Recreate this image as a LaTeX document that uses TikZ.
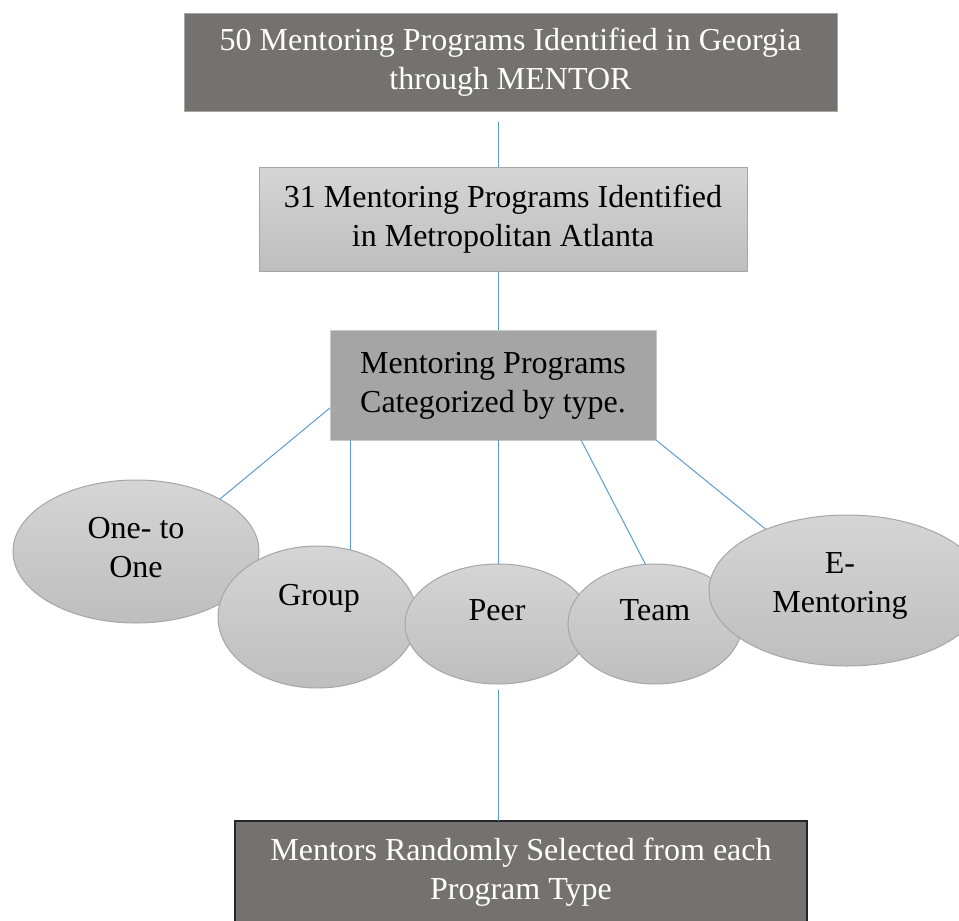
\documentclass[tikz,border=0pt]{standalone}
\usepackage{fontspec}
\setmainfont{Liberation Serif}
\usetikzlibrary{shapes.geometric,calc}
\definecolor{darkbox}{HTML}{767171}
\definecolor{lightA}{HTML}{D5D5D5}
\definecolor{lightB}{HTML}{BEBEBE}
\definecolor{midbox}{HTML}{A5A5A5}
\definecolor{edgegray}{HTML}{A6A6A6}
\definecolor{edgelight}{HTML}{C8C8C8}
\definecolor{edgedark}{HTML}{262626}
\definecolor{linkblue}{HTML}{5B9BD5}
\begin{document}
\begin{tikzpicture}[x=1pt,y=-1pt,
  every node/.style={inner sep=0pt, outer sep=0pt},
  txt/.style={font=\fontsize{32}{39}\selectfont, align=center},
  darkrect/.style={rectangle, txt, fill=darkbox, text=white},
  greyrect/.style={rectangle, txt, top color=lightA, bottom color=lightB, draw=edgegray, line width=1pt},
  midrect/.style={rectangle, txt, fill=midbox, draw=edgelight, line width=1pt},
  oval/.style={ellipse, top color=lightA, bottom color=lightB, draw=edgegray, line width=1pt},
  link/.style={draw=linkblue, line width=1pt}]
\useasboundingbox (0,0) rectangle (959,921);
\clip (0,0) rectangle (959,921);

% boxes
\node[darkrect, draw=edgegray, line width=1pt, minimum width=653pt, minimum height=98pt] (top) at (510.5,62)
  {\strut 50 Mentoring Programs Identified in Georgia\\\strut through MENTOR};
\node[greyrect, minimum width=488pt, minimum height=104pt] (metro) at (503,219)
  {\strut 31 Mentoring Programs Identified\\\strut in Metropolitan Atlanta};
\node[midrect, minimum width=326pt, minimum height=110pt] (cat) at (493,385)
  {\strut Mentoring Programs\\\strut Categorized by type.};
\node[darkrect, draw=edgedark, line width=1.5pt, minimum width=572pt, minimum height=102pt] (sel) at (521,872)
  {\strut Mentors Randomly Selected from each\\\strut Program Type};

% ellipses (left to right, later ones on top)
\node[oval, minimum width=246pt, minimum height=143pt] (one) at (136,551.5) {};
\node[oval, minimum width=199pt, minimum height=142pt] (group) at (317.5,617) {};
\node[oval, minimum width=186pt, minimum height=120pt] (peer) at (498,624) {};
\node[oval, minimum width=174pt, minimum height=120pt] (team) at (655,624) {};
\node[oval, minimum width=276pt, minimum height=151pt] (emen) at (847,590.5) {};

% ellipse labels
\node[txt, anchor=center] (onelbl) at (136,549.7) {\strut One- to\\\strut One};
\node[txt, anchor=base] (grouplbl) at (319,605) {Group};
\node[txt, anchor=base] (peerlbl) at (497,620) {Peer};
\node[txt, anchor=base] (teamlbl) at (655,620) {Team};
\node[txt, anchor=center] (emenlbl) at (840,584.7) {\strut E-\\\strut Mentoring};

% connectors
\draw[link] ([yshift=-11pt]top.south -| peer.north) -- (metro.north -| peer.north);
\draw[link] (metro.south -| peer.north) -- (cat.north -| peer.north);
\draw[link] (cat.188.4) -- (one.32.5);
\draw[link] (group.64.5 |- cat.south) -- (group.64.5);
\draw[link] (cat.south -| peer.north) -- (peer.north);
\draw[link] (cat.-32.6) -- (team.99.5);
\draw[link] (cat.south east) -- (emen.143);
\draw[link] ([yshift=-6pt]peer.south) -- (sel.north -| peer.south);
\end{tikzpicture}
\end{document}
